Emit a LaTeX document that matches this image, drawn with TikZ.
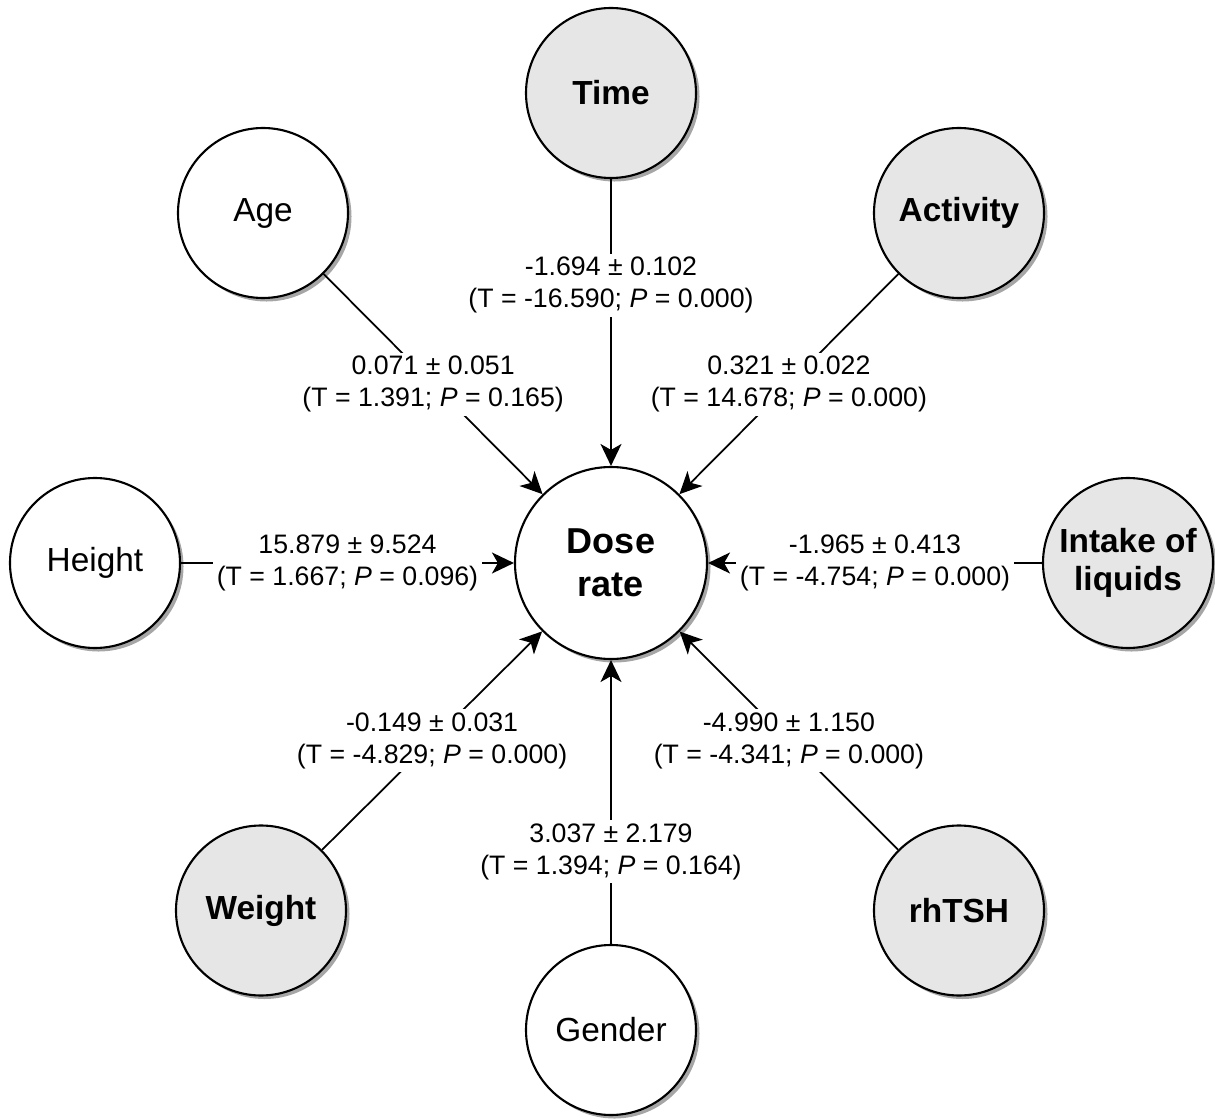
\documentclass[tikz,border=0pt]{standalone}
\usepackage{fontspec}
\setmainfont{Liberation Sans}
\usetikzlibrary{positioning, arrows.meta, shadows}
\definecolor{keygrey}{HTML}{E6E6E6}
\tikzstyle{factor} = [circle, minimum size=3.4cm, inner sep=0pt, draw=black, line width=1.2pt, fill=white, align=center, font=\fontsize{19}{22}\selectfont, drop shadow={shadow xshift=2pt, shadow yshift=-2pt, fill=black, opacity=0.35}]
\tikzstyle{keyfactor} = [factor, fill=keygrey, font=\fontsize{19}{22}\selectfont\bfseries]
\tikzstyle{dose} = [factor, minimum size=3.84cm, font=\fontsize{20.5}{24.5}\selectfont\bfseries]
\tikzstyle{arrow} = [line width=1pt, -{Stealth[length=4.4mm, width=4.2mm, inset=1.2mm]}]
\tikzstyle{coef} = [fill=white, inner sep=2pt, align=center, font=\fontsize{15.2}{18.2}\selectfont]

\begin{document}
\begin{tikzpicture}[on grid]
        \useasboundingbox (-12.22,-11.14) rectangle (12.08,11.26);
        \node (Dose) [dose] at (0,0) {Dose\\rate};
        \node (Time) [keyfactor, above=9.4cm of Dose] {Time};
        \node (Age) [factor, above left=7cm and 6.96cm of Dose] {Age};
        \node (Activity) [keyfactor, above right=7cm and 6.96cm of Dose] {Activity};
        \node (Height) [factor, left=10.32cm of Dose] {Height};
        \node (Intake) [keyfactor, right=10.34cm of Dose] {Intake of\\liquids};
        \node (Weight) [keyfactor, below left=6.95cm and 7cm of Dose] {Weight};
        \node (rhTSH) [keyfactor, below right=6.95cm and 6.96cm of Dose] {rhTSH};
        \node (Gender) [factor, below=9.34cm of Dose] {Gender};

        \draw [arrow] (Time) -- node[coef, pos=0.37] {-1.694 ± 0.102\\(T = -16.590; \textit{P} = 0.000)} (Dose);
        \draw [arrow] (Age) -- node[coef] {0.071 ± 0.051\\(T = 1.391; \textit{P} = 0.165)} (Dose);
        \draw [arrow] (Activity) -- node[coef] {0.321 ± 0.022\\(T = 14.678; \textit{P} = 0.000)} (Dose);
        \draw [arrow] (Height) -- node[coef] {15.879 ± 9.524\\(T = 1.667; \textit{P} = 0.096)} (Dose);
        \draw [arrow] (Intake) -- node[coef] {-1.965 ± 0.413\\(T = -4.754; \textit{P} = 0.000)} (Dose);
        \draw [arrow] (Weight) -- node[coef] {-0.149 ± 0.031\\(T = -4.829; \textit{P} = 0.000)} (Dose);
        \draw [arrow] (rhTSH) -- node[coef] {-4.990 ± 1.150\\(T = -4.341; \textit{P} = 0.000)} (Dose);
        \draw [arrow] (Gender) -- node[coef, pos=0.325] {3.037 ± 2.179\\(T = 1.394; \textit{P} = 0.164)} (Dose);
\end{tikzpicture}
\end{document}
